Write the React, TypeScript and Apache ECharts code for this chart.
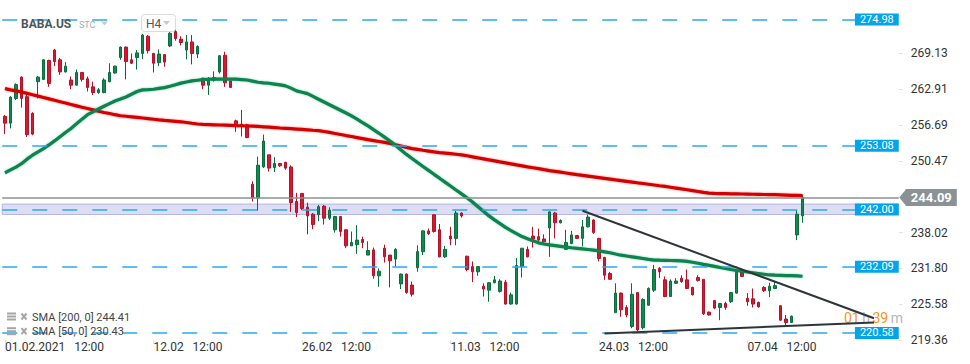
import React, { useEffect, useRef } from "react";
import * as echarts from "echarts";

const tradingDays = [
  "01.02", "02.02", "03.02", "04.02", "05.02", "08.02", "09.02", "10.02", "11.02", "12.02",
  "16.02", "17.02", "18.02", "19.02", "22.02", "23.02", "24.02", "25.02", "26.02",
  "01.03", "02.03", "03.03", "04.03", "05.03", "08.03", "09.03", "10.03", "11.03", "12.03",
  "15.03", "16.03", "17.03", "18.03", "19.03", "22.03", "23.03", "24.03", "25.03", "26.03",
  "29.03", "30.03", "31.03", "01.04", "05.04", "06.04", "07.04", "08.04", "09.04", "12.04",
  "13.04", "14.04", "15.04", "16.04", "19.04", "20.04",
];
const sessionTimes = ["12:00", "16:00", "20:00"];
const totalSlots = 163;
const categories = tradingDays.flatMap((d) => sessionTimes.map((t) => `${d} ${t}`)).slice(0, totalSlots);

const xTickIndex = [0, 27, 54, 81, 108, 135];
const xTickLabels = [
  "01.02.2021\u00a0\u00a0\u00a012:00",
  "12.02\u00a0\u00a0\u00a012:00",
  "26.02\u00a0\u00a0\u00a012:00",
  "11.03\u00a0\u00a0\u00a012:00",
  "24.03\u00a0\u00a0\u00a012:00",
  "07.04\u00a0\u00a0\u00a012:00",
];
const yTickValues = [219.36, 225.58, 231.8, 238.02, 250.47, 256.69, 262.91, 269.13];
const levelValues = [274.98, 253.08, 242.0, 232.09, 220.58];
const zoneRange = [242.95, 241.15];
const lastPrice = 244.09;

const opens = [
  258.2, 257.0, 261.3, 265.0, 261.6, 258.7, 264.2, 264.6, 267.9, 269.7,
  268.0, 265.9, 264.5, 263.6, 265.8, 264.7, 263.3, 262.3, 262.3, 264.2,
  265.7, 268.4, 270.2, 268.0, 268.4, 269.1, 272.1, 269.1, 267.5, 268.9,
  270.4, 272.9, 271.6, 269.7, 271.1, 269.0, 264.8, 263.6, 264.5, 265.9,
  268.8, 264.3, 257.4, 256.8, 256.7, 246.4, 244.0, 249.4, 251.5, 249.3,
  250.0, 250.2, 249.4, 243.4, 244.8, 242.4, 241.2, 241.1, 242.6, 240.5,
  238.5, 240.8, 238.5, 235.7, 235.9, 236.8, 234.1, 235.0, 230.5, 235.3,
  234.1, 233.4, 229.1, 230.8, 228.9, 231.9, 234.7, 238.3, 241.1, 238.5,
  233.8, 237.4, 237.0, 241.4, 233.9, 232.1, 231.2, 228.7, 228.0, 229.3,
  227.8, 229.4, 225.6, 225.6, 232.1, 235.1, 237.4, 237.3, 236.9, 238.8,
  241.4, 239.7, 235.1, 236.1, 237.5, 237.0, 239.0, 240.2, 237.0, 233.7,
  230.9, 224.1, 227.5, 225.0, 221.7, 227.6, 221.5, 225.4, 228.0, 231.8,
  229.8, 226.9, 229.2, 230.1, 229.8, 228.5, 230.2, 229.9, 224.2, 226.2,
  225.0, 225.7, 226.0, 227.5, 231.5, 226.6, 226.5, 225.9, 228.5, 227.9,
  228.3, 225.3, 223.0, 222.4, 237.6, 240.9,
];
const closes = [
  257.0, 261.5, 263.7, 261.3, 255.0, 255.1, 265.0, 268.0, 263.9, 267.7,
  265.9, 266.9, 263.6, 265.8, 264.6, 263.2, 262.3, 262.8, 264.5, 265.8,
  266.9, 270.2, 267.7, 267.4, 269.2, 272.3, 269.6, 267.4, 269.0, 267.6,
  272.6, 271.7, 271.0, 271.1, 269.1, 270.3, 263.6, 264.8, 264.9, 268.7,
  264.0, 263.2, 256.7, 256.6, 254.5, 244.0, 249.7, 253.9, 249.2, 250.0,
  249.6, 249.2, 243.2, 241.5, 242.2, 240.9, 239.4, 242.5, 240.5, 241.9,
  240.8, 238.2, 235.7, 236.3, 236.7, 236.3, 234.9, 230.5, 231.3, 233.8,
  233.1, 235.1, 230.8, 227.6, 227.3, 234.7, 238.3, 237.8, 238.2, 233.8,
  235.1, 236.9, 241.4, 240.9, 231.6, 231.2, 232.1, 228.2, 229.3, 229.8,
  229.6, 225.6, 227.2, 232.3, 235.3, 233.8, 236.9, 236.7, 236.4, 241.6,
  239.7, 240.1, 236.3, 237.6, 237.0, 239.0, 240.7, 238.0, 233.5, 230.6,
  229.9, 227.5, 224.6, 223.7, 227.3, 221.1, 226.4, 228.3, 231.6, 231.2,
  226.9, 229.6, 229.6, 229.5, 228.3, 227.2, 229.7, 223.9, 223.7, 224.9,
  225.7, 225.0, 227.6, 231.1, 230.4, 226.0, 225.6, 225.1, 227.9, 228.7,
  228.8, 222.8, 222.4, 223.5, 241.2, 244.1,
];
const lows = [
  255.1, 256.1, 261.0, 259.7, 254.6, 254.9, 261.3, 264.5, 263.3, 266.9,
  265.4, 265.8, 262.9, 263.5, 264.2, 262.5, 261.9, 262.1, 262.2, 264.1,
  265.6, 268.0, 264.6, 267.3, 266.3, 268.1, 269.1, 265.8, 266.9, 266.8,
  270.2, 271.3, 270.5, 268.1, 267.2, 268.3, 262.9, 261.9, 264.2, 265.6,
  263.3, 263.1, 255.5, 254.7, 254.4, 243.4, 241.8, 249.2, 248.6, 248.5,
  249.4, 248.9, 241.6, 240.7, 241.9, 237.7, 238.6, 240.0, 239.4, 240.2,
  238.0, 237.3, 235.3, 235.7, 234.3, 235.3, 234.1, 230.0, 228.6, 232.8,
  228.5, 232.1, 228.2, 227.4, 226.9, 231.2, 234.1, 237.6, 238.0, 233.7,
  233.6, 235.8, 235.8, 240.6, 231.3, 229.4, 230.5, 226.9, 226.0, 229.2,
  227.6, 225.5, 225.5, 225.5, 230.2, 233.7, 235.4, 236.3, 236.3, 233.8,
  237.0, 239.6, 235.0, 236.0, 236.9, 235.6, 238.9, 237.8, 233.0, 229.8,
  229.8, 224.1, 223.4, 223.3, 221.4, 220.9, 221.2, 225.3, 227.7, 230.1,
  226.8, 226.8, 229.1, 229.3, 228.2, 227.1, 229.5, 223.7, 223.6, 224.7,
  222.8, 224.6, 225.8, 227.4, 230.3, 225.3, 225.0, 225.0, 227.7, 226.8,
  228.2, 222.7, 221.7, 222.3, 236.7, 239.7,
];
const highs = [
  258.4, 261.7, 263.9, 265.1, 262.0, 258.9, 265.2, 268.1, 268.0, 269.9,
  268.3, 267.6, 265.1, 266.3, 265.9, 265.1, 264.2, 263.1, 264.8, 267.4,
  267.0, 270.3, 270.3, 269.1, 269.7, 272.5, 272.3, 269.2, 269.8, 269.0,
  272.9, 273.3, 272.1, 272.3, 272.3, 270.5, 264.9, 265.0, 266.0, 268.8,
  269.4, 264.4, 257.6, 259.3, 256.9, 246.9, 251.2, 255.0, 251.5, 251.1,
  250.1, 250.3, 249.7, 244.9, 244.9, 243.2, 241.4, 242.8, 242.8, 242.4,
  240.9, 240.9, 238.5, 238.2, 239.3, 237.3, 236.5, 235.4, 231.8, 235.9,
  234.1, 235.3, 230.9, 230.9, 229.5, 235.8, 238.4, 238.7, 241.1, 239.5,
  235.7, 239.0, 241.8, 241.5, 234.0, 233.0, 232.2, 229.2, 229.4, 230.5,
  229.9, 229.8, 227.6, 233.6, 235.3, 235.6, 239.0, 238.7, 237.7, 241.7,
  241.6, 240.3, 238.5, 238.3, 237.6, 240.2, 241.1, 240.3, 237.1, 233.8,
  231.2, 229.2, 227.6, 225.4, 229.2, 227.6, 226.6, 228.5, 232.4, 232.0,
  230.4, 229.9, 230.1, 230.6, 231.6, 228.6, 230.6, 229.9, 224.3, 226.3,
  225.8, 226.0, 227.7, 231.5, 231.8, 227.5, 228.3, 226.0, 228.7, 229.3,
  229.4, 225.4, 223.7, 223.6, 241.9, 244.5,
];

const sma200 = [
  262.99, 262.79, 262.6, 262.4, 262.17, 261.93, 261.69, 261.45, 261.21, 260.97,
  260.73, 260.49, 260.25, 260.01, 259.77, 259.54, 259.3, 259.06, 258.86, 258.67,
  258.47, 258.29, 258.2, 258.1, 258.0, 257.9, 257.79, 257.68, 257.57, 257.48,
  257.4, 257.32, 257.24, 257.11, 256.98, 256.86, 256.78, 256.75, 256.72, 256.68,
  256.65, 256.62, 256.58, 256.55, 256.51, 256.47, 256.43, 256.37, 256.3, 256.23,
  256.16, 256.1, 256.04, 255.98, 255.92, 255.85, 255.77, 255.71, 255.56, 255.39,
  255.21, 255.03, 254.85, 254.68, 254.5, 254.32, 254.14, 253.98, 253.82, 253.66,
  253.5, 253.26, 253.03, 252.79, 252.59, 252.45, 252.3, 252.16, 252.02, 251.9,
  251.8, 251.7, 251.6, 251.5, 251.34, 251.16, 250.98, 250.81, 250.63, 250.46,
  250.28, 250.11, 249.93, 249.75, 249.59, 249.42, 249.26, 249.1, 248.93, 248.77,
  248.63, 248.49, 248.35, 248.21, 248.07, 247.94, 247.81, 247.68, 247.55, 247.42,
  247.29, 247.16, 247.04, 246.91, 246.78, 246.65, 246.53, 246.4, 246.27, 246.14,
  246.02, 245.88, 245.73, 245.58, 245.44, 245.29, 245.14, 244.99, 244.85, 244.8,
  244.78, 244.76, 244.74, 244.72, 244.7, 244.68, 244.66, 244.64, 244.62, 244.6,
  244.58, 244.56, 244.52, 244.48, 244.45, 244.41,
];
const sma50 = [
  248.4, 248.89, 249.38, 249.96, 250.75, 251.44, 252.01, 252.59, 253.22, 253.92,
  254.65, 255.37, 256.09, 256.89, 257.7, 258.47, 258.97, 259.45, 259.93, 260.4,
  260.84, 261.18, 261.55, 262.02, 262.5, 262.78, 262.83, 262.89, 263.03, 263.17,
  263.4, 263.68, 263.95, 264.14, 264.33, 264.45, 264.55, 264.62, 264.64, 264.65,
  264.66, 264.66, 264.64, 264.57, 264.49, 264.3, 264.1, 264.0, 263.93, 263.79,
  263.64, 263.47, 263.08, 262.6, 262.37, 262.12, 261.64, 261.15, 260.67, 260.19,
  259.71, 259.24, 258.77, 258.26, 257.69, 257.11, 256.53, 255.88, 255.24, 254.57,
  253.9, 253.17, 252.34, 251.58, 250.88, 250.18, 249.48, 248.8, 248.12, 247.45,
  246.77, 246.09, 245.4, 244.72, 244.04, 243.3, 242.5, 241.7, 240.9, 240.22,
  239.56, 238.9, 238.35, 237.83, 237.31, 236.93, 236.58, 236.23, 236.02, 235.86,
  235.74, 235.62, 235.49, 235.37, 235.27, 235.17, 235.07, 234.97, 234.82, 234.67,
  234.51, 234.29, 234.08, 233.94, 233.8, 233.65, 233.51, 233.36, 233.24, 233.21,
  233.19, 233.16, 233.14, 233.09, 233.0, 232.86, 232.68, 232.49, 232.31, 232.13,
  231.95, 231.78, 231.6, 231.43, 231.3, 231.17, 231.04, 230.91, 230.78, 230.65,
  230.61, 230.58, 230.55, 230.52, 230.48, 230.43,
];

const trendDown = [[105, 241.8], [158, 223.14]];
const trendUp = [[109, 220.5], [158, 222.38]];

const legendRows = ["SMA [200, 0] 244.41", "SMA [50, 0] 230.43"];

export default function App() {
  const ref = useRef<HTMLDivElement>(null);

  useEffect(() => {
    if (!ref.current) return;
    const chart = echarts.init(ref.current, undefined, { renderer: "svg" });
    const candleData = opens.map((o, i) => [o, closes[i], lows[i], highs[i]]);
    const tickSet = new Set(xTickIndex);
    const font = "Roboto";
    const gridLeft = 2.25;
    const gridRight = 71.25;

    const legendGraphics: any[] = [];
    legendRows.forEach((txt, r) => {
      const cy = 317 + r * 14.7;
      legendGraphics.push(
        { id: `lgi1_${r}`, type: "rect", shape: { x: 7, y: cy - 4.5, width: 9, height: 2 }, style: { fill: "#a5a5a5" }, z: 50 },
        { id: `lgi2_${r}`, type: "rect", shape: { x: 7, y: cy - 1.5, width: 9, height: 2 }, style: { fill: "#a5a5a5" }, z: 50 },
        { id: `lgi3_${r}`, type: "rect", shape: { x: 7, y: cy + 1.5, width: 9, height: 2 }, style: { fill: "#a5a5a5" }, z: 50 },
        { id: `lgx1_${r}`, type: "line", shape: { x1: 21.5, y1: cy - 3.5, x2: 26.5, y2: cy + 2.5 }, style: { stroke: "#a5a5a5", lineWidth: 2 }, z: 50 },
        { id: `lgx2_${r}`, type: "line", shape: { x1: 26.5, y1: cy - 3.5, x2: 21.5, y2: cy + 2.5 }, style: { stroke: "#a5a5a5", lineWidth: 2 }, z: 50 },
        { id: `lgt_${r}`, type: "text", x: 32, y: cy, style: { text: txt, fill: "#444", fontSize: 11, fontFamily: font, verticalAlign: "middle" }, z: 50 }
      );
    });

    const baseGraphics: any[] = [
      { id: "title", type: "text", x: 21, y: 24, style: { text: "BABA.US", fill: "#4b5560", fontSize: 12, fontWeight: "bold", fontFamily: font, verticalAlign: "middle" }, z: 50 },
      { id: "stc", type: "text", x: 79, y: 24.5, style: { text: "STC", fill: "#a3abb3", fontSize: 9, fontFamily: font, verticalAlign: "middle" }, z: 50 },
      { id: "stcTri", type: "polygon", shape: { points: [[101, 21.5], [108, 21.5], [104.5, 25.5]] }, style: { fill: "#c5cbd0" }, z: 50 },
      { id: "h4box", type: "rect", shape: { x: 141.5, y: 14.5, width: 34, height: 17, r: 3 }, style: { fill: "#fff", stroke: "#dadada", lineWidth: 1 }, z: 50 },
      { id: "h4txt", type: "text", x: 146, y: 23.5, style: { text: "H4", fill: "#555", fontSize: 12, fontFamily: font, verticalAlign: "middle" }, z: 51 },
      { id: "h4tri", type: "polygon", shape: { points: [[163, 21], [170, 21], [166.5, 25]] }, style: { fill: "#c8c8c8" }, z: 51 },
      {
        id: "countdown", type: "text", x: 844, y: 318,
        style: {
          text: "{o|01}{g|h}{o|39}{g|m}", verticalAlign: "middle", fontFamily: font,
          rich: {
            o: { fill: "#f7941d", fontSize: 14, fontFamily: font },
            g: { fill: "#b5b5b5", fontSize: 14, fontFamily: font, padding: [0, 2.5, 0, 2.5] },
          },
        },
        z: 3,
      },
      ...legendGraphics,
    ];

    const labelFmt = (p: any) => Number(p.value).toFixed(2);

    const option: any = {
      animation: false,
      textStyle: { fontFamily: font },
      grid: { left: gridLeft, right: gridRight, top: 0, bottom: 24, containLabel: false },
      xAxis: {
        type: "category",
        data: categories,
        boundaryGap: true,
        axisLine: { show: false },
        splitLine: { show: false },
        axisTick: {
          show: true,
          alignWithLabel: true,
          length: 4,
          interval: (idx: number) => tickSet.has(idx),
          lineStyle: { color: "#e2e2e2" },
        },
        axisLabel: {
          interval: (idx: number) => tickSet.has(idx),
          formatter: (_v: string, idx: number) => {
            const k = xTickIndex.indexOf(idx);
            return k >= 0 ? xTickLabels[k] : "";
          },
          align: "left",
          color: "#333",
          fontSize: 12,
          margin: 1,
          fontFamily: font,
        },
      },
      yAxis: {
        type: "value",
        position: "right",
        min: 219.36,
        max: 278.38,
        scale: true,
        splitLine: { show: false },
        axisLine: { show: false },
        axisTick: { show: true, length: 4, customValues: yTickValues, lineStyle: { color: "#e2e2e2" } },
        axisLabel: {
          customValues: yTickValues,
          formatter: (v: number) => v.toFixed(2),
          color: "#333",
          fontSize: 12,
          margin: 12,
          fontFamily: font,
        },
      },
      series: [
        {
          name: "BABA.US",
          type: "candlestick",
          data: candleData,
          barWidth: 3,
          z: 2,
          itemStyle: {
            color: "#11894f",
            color0: "#d6192f",
            borderColor: "#0b6d3e",
            borderColor0: "#b31228",
            borderWidth: 1,
          },
        },
        {
          name: "SMA [200, 0]",
          type: "line",
          data: sma200,
          showSymbol: false,
          symbol: "none",
          z: 3,
          lineStyle: { color: "#d40000", width: 3.2, shadowColor: "rgba(220,0,0,0.45)", shadowBlur: 2 },
        },
        {
          name: "SMA [50, 0]",
          type: "line",
          data: sma50,
          showSymbol: false,
          symbol: "none",
          z: 3,
          lineStyle: { color: "#07834e", width: 3.2, shadowColor: "rgba(0,130,80,0.45)", shadowBlur: 2 },
        },
        {
          name: "zone",
          type: "line",
          data: [],
          z: 4,
          markArea: {
            silent: true,
            itemStyle: { color: "rgba(170,172,225,0.4)", borderColor: "#b5b6e4", borderWidth: 1 },
            data: [[{ yAxis: zoneRange[0] }, { yAxis: zoneRange[1] }]],
          },
        },
        {
          name: "levels",
          type: "line",
          data: [],
          z: 5,
          markLine: {
            silent: true,
            symbol: ["none", "none"],
            lineStyle: { color: "#2aa9ee", width: 1.5, type: [15, 15] },
            label: {
              show: true,
              position: "insideEnd",
              distance: 0,
              formatter: labelFmt,
              color: "#fff",
              backgroundColor: "#02a4ea",
              fontSize: 11,
              lineHeight: 12,
              padding: [0, 5, 0, 5],
              fontFamily: font,
            },
            data: [
              ...levelValues.map((v) => ({ yAxis: v })),
              {
                yAxis: lastPrice,
                lineStyle: { color: "#8d9194", width: 1.5, type: "solid" },
                label: {
                  show: true,
                  position: "end",
                  distance: 7,
                  formatter: labelFmt,
                  color: "#fff",
                  backgroundColor: "#8b9296",
                  fontSize: 13,
                  fontWeight: "bold",
                  lineHeight: 15,
                  padding: [1, 5, 1, 5],
                  fontFamily: font,
                },
              },
            ],
          },
        },
        {
          name: "trend",
          type: "line",
          data: [],
          z: 6,
          markLine: {
            silent: true,
            symbol: ["none", "none"],
            label: { show: false },
            lineStyle: { color: "#2f3439", width: 2, type: "solid" },
            data: [
              [{ coord: trendDown[0] }, { coord: trendDown[1] }],
              [{ coord: trendUp[0] }, { coord: trendUp[1] }],
            ],
          },
        },
      ],
      graphic: baseGraphics,
    };

    chart.setOption(option);

    const yLast = chart.convertToPixel({ yAxisIndex: 0 }, lastPrice) as number;
    const xRight = 970 - gridRight;
    chart.setOption({
      graphic: [
        ...baseGraphics,
        {
          id: "lastArrow",
          type: "polygon",
          shape: { points: [[xRight + 0.5, yLast], [xRight + 7.5, yLast - 8.5], [xRight + 7.5, yLast + 8.5]] },
          style: { fill: "#8b9296" },
          z: 60,
        },
      ],
    });

    return () => chart.dispose();
  }, []);

  return (
    <div
      ref={ref}
      style={{ position: "absolute", left: 0, top: 0, width: 970, height: 364, background: "#fff" }}
    />
  );
}
